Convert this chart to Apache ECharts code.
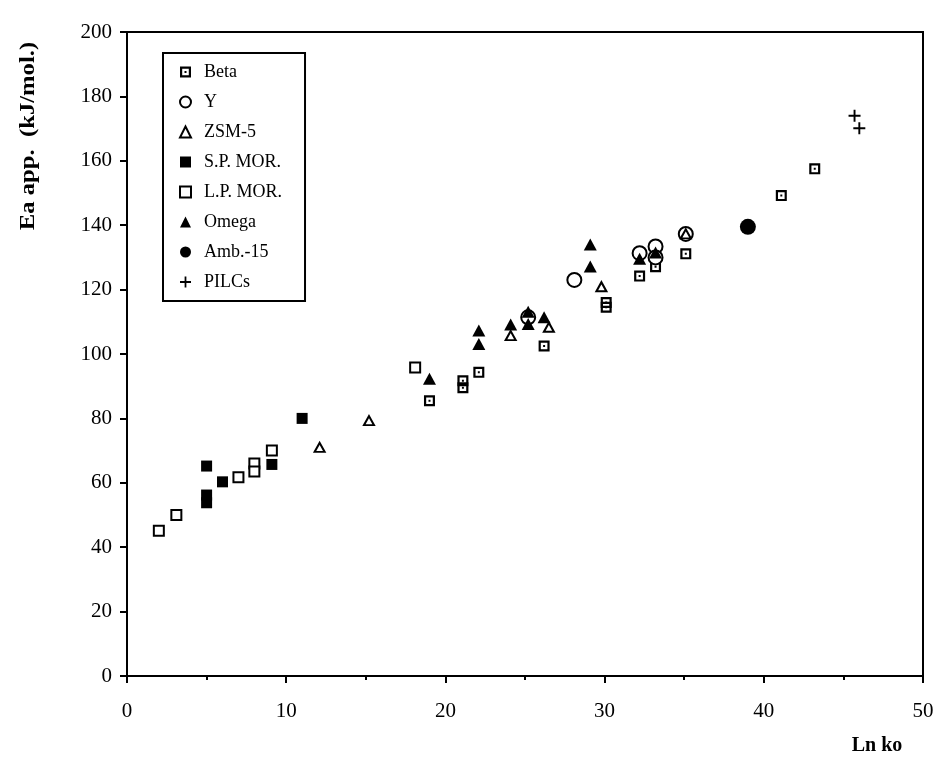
<!DOCTYPE html>
<html>
<head>
<meta charset="utf-8">
<script src="https://cdn.jsdelivr.net/npm/echarts@6/dist/echarts.min.js"></script>
<style>html,body{margin:0;padding:0;background:#fff}#c{width:940px;height:770px}</style>
</head>
<body>
<div id="c"></div>
<script>
const seriesNames = ['Beta','Y','ZSM-5','S.P. MOR.','L.P. MOR.','Omega','Amb.-15','PILCs'];
const betaData = [[19.0,85.5],[21.1,91.7],[21.1,89.5],[22.1,94.3],[26.2,102.5],[30.1,116],[30.1,114.5],[32.2,124.2],[33.2,127.1],[35.1,131.1],[41.1,149.2],[43.2,157.5]];
const yData = [[25.2,111.4],[28.1,123],[32.2,131.3],[33.2,133.4],[33.2,130],[35.1,137.3]];
const zsmData = [[12.1,71],[15.2,79.3],[24.1,105.7],[26.5,108.3],[29.8,120.9],[35.1,137.3]];
const spMorData = [[5.0,65.2],[5.0,56.2],[5.0,53.8],[6.0,60.3],[9.1,65.7],[11.0,80.0]];
const lpMorData = [[2.0,45.1],[3.1,50.0],[7.0,61.7],[8.0,66],[8.0,63.5],[9.1,70.0],[18.1,95.8]];
const omegaData = [[19.0,92.3],[22.1,107.3],[22.1,103.1],[24.1,109.2],[25.2,113.1],[25.2,109.3],[26.2,111.4],[29.1,134],[29.1,127.2],[32.2,129.6],[33.2,131.5]];
const ambData = [[39.0,139.5]];
const pilcData = [[45.7,174],[46.0,170.1]];
const xTicks = [0,10,20,30,40,50];
const yTicks = [0,20,40,60,80,100,120,140,160,180,200];

const FONT = '"Liberation Serif", "Times New Roman", serif';
const betaPath = 'path://M0 0L10 0L10 10L0 10Z M2 2L2 8L8 8L8 2Z M4.1 4.1L5.9 4.1L5.9 5.9L4.1 5.9Z';
const plusPath = 'path://M4.2 0L5.8 0L5.8 4.2L10 4.2L10 5.8L5.8 5.8L5.8 10L4.2 10L4.2 5.8L0 5.8L0 4.2L4.2 4.2Z';

const chart = echarts.init(document.getElementById('c'), null, {renderer:'canvas'});
function mk(name, data, symbol, size, style){
  return {name, type:'scatter', data, symbol, symbolSize:size, itemStyle:Object.assign({opacity:1}, style), z:3};
}
const black = {color:'#000'};
const hollow = {color:'#fff', borderColor:'#000', borderWidth:2};
chart.setOption({
  animation:false,
  backgroundColor:'#fff',
  textStyle:{fontFamily:FONT},
  grid:{left:127, right:17, top:32, bottom:94, show:true, borderColor:'#000', borderWidth:2, backgroundColor:'transparent'},
  legend:{
    orient:'vertical', left:163, top:53, data:seriesNames,
    itemWidth:11, itemHeight:11, itemGap:12,
    padding:[10, 23, 10, 16],
    borderColor:'#000', borderWidth:2, backgroundColor:'#fff',
    textStyle:{fontFamily:FONT, fontSize:18, color:'#000', padding:[0,0,0,8]},
    selectedMode:false
  },
  xAxis:{
    type:'value', min:0, max:50, interval:10,
    axisLine:{show:true, onZero:false, lineStyle:{color:'#000', width:2}},
    axisTick:{show:true, length:7, lineStyle:{color:'#000', width:2}},
    minorTick:{show:true, splitNumber:2, length:4, lineStyle:{color:'#000', width:2}},
    splitLine:{show:false},
    axisLabel:{fontFamily:FONT, fontSize:21, color:'#000', margin:25},
    name:'Ln ko', nameLocation:'end', nameGap:0,
    nameTextStyle:{fontFamily:FONT, fontSize:20, fontWeight:'bold', color:'#000', align:'center', verticalAlign:'top', padding:[60,0,0,-92]}
  },
  yAxis:{
    type:'value', min:0, max:200, interval:20,
    axisLine:{show:true, onZero:false, lineStyle:{color:'#000', width:2}},
    axisTick:{show:true, length:7, lineStyle:{color:'#000', width:2}},
    splitLine:{show:false},
    axisLabel:{fontFamily:FONT, fontSize:21, color:'#000', margin:15}
  },
  graphic:[{
    type:'text', x:28, y:136, rotation:Math.PI/2, scaleX:1.12, z:10,
    style:{text:'Ea app.  (kJ/mol.)', font:'bold 22px ' + FONT, fill:'#000', align:'center', verticalAlign:'middle'}
  }],
  series:[
    mk('Beta', betaData, betaPath, 11, black),
    mk('Y', yData, 'circle', 14, hollow),
    mk('ZSM-5', zsmData, 'triangle', [10,9], hollow),
    mk('S.P. MOR.', spMorData, 'rect', 11, black),
    mk('L.P. MOR.', lpMorData, 'rect', 10, hollow),
    mk('Omega', omegaData, 'triangle', [13,12], black),
    mk('Amb.-15', ambData, 'circle', 16, black),
    mk('PILCs', pilcData, plusPath, 12, black)
  ]
});
</script>
</body>
</html>
